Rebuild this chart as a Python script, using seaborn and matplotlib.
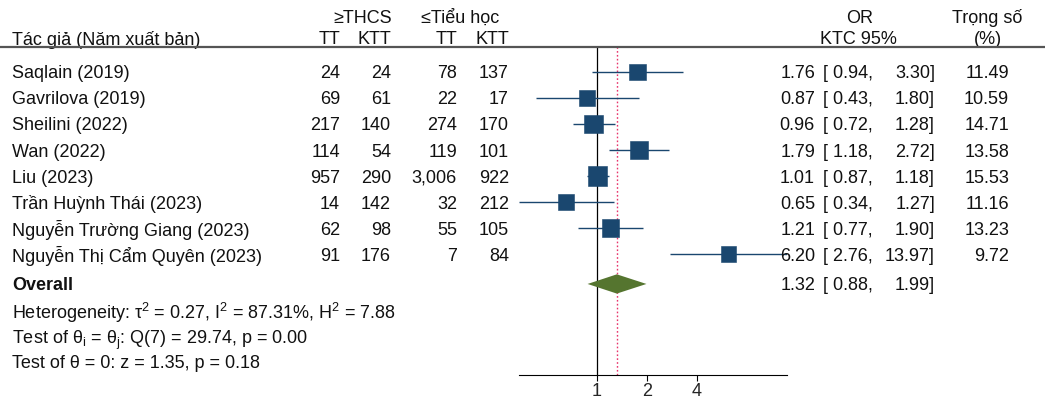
import matplotlib
matplotlib.use("Agg")
import matplotlib.pyplot as plt
import matplotlib.transforms as mtransforms
from matplotlib.lines import Line2D
import numpy as np
import pandas as pd
import seaborn as sns

# data
studies = ["Saqlain (2019)", "Gavrilova (2019)", "Sheilini (2022)", "Wan (2022)",
           "Liu (2023)", "Trần Huỳnh Thái (2023)", "Nguyễn Trường Giang (2023)",
           "Nguyễn Thị Cẩm Quyên (2023)"]
tt_thcs = [24, 69, 217, 114, 957, 14, 62, 91]
ktt_thcs = [24, 61, 140, 54, 290, 142, 98, 176]
tt_tieuhoc = [78, 22, 274, 119, 3006, 32, 55, 7]
ktt_tieuhoc = [137, 17, 170, 101, 922, 212, 105, 84]
odds = [1.76, 0.87, 0.96, 1.79, 1.01, 0.65, 1.21, 6.20]
ci_low = [0.94, 0.43, 0.72, 1.18, 0.87, 0.34, 0.77, 2.76]
ci_high = [3.30, 1.80, 1.28, 2.72, 1.18, 1.27, 1.90, 13.97]
weights = [11.49, 10.59, 14.71, 13.58, 15.53, 11.16, 13.23, 9.72]
overall = (1.32, 0.88, 1.99)
stats_lines = [
    r"Heterogeneity: τ$^2$ = 0.27, I$^2$ = 87.31%, H$^2$ = 7.88",
    r"Test of θ$_\mathrm{i}$ = θ$_\mathrm{j}$: Q(7) = 29.74, p = 0.00",
    "Test of θ = 0: z = 1.35, p = 0.18",
]
xticks = [1, 2, 4]

NAVY = "#1a476f"
GREEN = "#55752f"
RED = "#e8336b"

sns.set_theme(style="white")
plt.rcParams["font.family"] = ["Liberation Sans", "DejaVu Sans"]
plt.rcParams["mathtext.fontset"] = "custom"
plt.rcParams["mathtext.rm"] = "Liberation Sans"
plt.rcParams["mathtext.it"] = "Liberation Sans:italic"
FS = 13

df = pd.DataFrame({"study": studies, "or": odds, "lo": ci_low, "hi": ci_high,
                   "w": weights, "row": np.arange(len(studies))})
overall_row = len(studies) + 0.15

fig = plt.figure(figsize=(10.45, 4.03), dpi=100)
ax = fig.add_axes([519 / 1045, 1 - 375 / 403, 268 / 1045, 328 / 403])
ax.set_xscale("log", base=2)

# CI lines and weighted squares
ax.hlines(df["row"], df["lo"], df["hi"], color=NAVY, lw=1.0, zorder=2)
sns.scatterplot(data=df, x="or", y="row", size="w", sizes=(0, 16 * 12.5),
                size_norm=(0, 16), marker="s", color=NAVY, edgecolor=NAVY,
                linewidth=0.4, legend=False, ax=ax, zorder=3)

# overall diamond
est, lo, hi = overall
ax.fill([lo, est, hi, est], [overall_row, overall_row - 0.37, overall_row, overall_row + 0.37],
        color=GREEN, lw=0, zorder=3)

ax.axvline(1, color="black", lw=0.9, zorder=1)
ax.axvline(est, color=RED, lw=1.0, ls=(0, (1.2, 1.6)), zorder=1)

ax.set_xlim(min(ci_low), max(ci_high))
ax.set_ylim(11.65, -0.96)
ax.set_xticks(xticks)
ax.set_xticklabels([str(t) for t in xticks], fontsize=FS)
ax.xaxis.set_minor_locator(matplotlib.ticker.NullLocator())
ax.tick_params(axis="x", bottom=True, length=4, width=0.8, color="black", pad=2)
ax.set_yticks([])
ax.set_xlabel("")
ax.set_ylabel("")
for side in ["top", "left", "right"]:
    ax.spines[side].set_visible(False)
ax.spines["bottom"].set_color("black")
ax.spines["bottom"].set_linewidth(0.8)

# text columns: figure x, data y
tr = mtransforms.blended_transform_factory(fig.transFigure, ax.transData)

def px(x):
    return x / 1045

def put(x, y, s, ha="left", **kw):
    ax.text(px(x), y, s, transform=tr, ha=ha, va="center_baseline", fontsize=FS,
            color="#111111", clip_on=False, **kw)

# header
put(363, -2.15, "≥THCS", ha="center")
put(460, -2.15, "≤Tiểu học", ha="center")
put(12, -1.31, "Tác giả (Năm xuất bản)")
put(340, -1.31, "TT", ha="right")
put(391, -1.31, "KTT", ha="right")
put(457, -1.31, "TT", ha="right")
put(509, -1.31, "KTT", ha="right")
put(860, -2.15, "OR", ha="center")
put(858, -1.31, "KTC 95%", ha="center")
put(952, -2.15, "Trọng số")
put(988, -1.31, "(%)", ha="center")
fig.add_artist(Line2D([0, 1], [1 - 47 / 403] * 2, color="#555555", lw=1.6,
                      transform=fig.transFigure))

for i, s in enumerate(studies):
    put(12, i, s)
    put(340, i, f"{tt_thcs[i]:,}", ha="right")
    put(391, i, f"{ktt_thcs[i]:,}", ha="right")
    put(457, i, f"{tt_tieuhoc[i]:,}", ha="right")
    put(509, i, f"{ktt_tieuhoc[i]:,}", ha="right")
    put(815, i, f"{odds[i]:.2f}", ha="right")
    put(873, i, f"[ {ci_low[i]:.2f},", ha="right")
    put(935, i, f"{ci_high[i]:.2f}]", ha="right")
    put(1009, i, f"{weights[i]:.2f}", ha="right")

put(12, overall_row, "Overall", fontweight="bold")
put(815, overall_row, f"{est:.2f}", ha="right")
put(873, overall_row, f"[ {lo:.2f},", ha="right")
put(935, overall_row, f"{hi:.2f}]", ha="right")
for k, s in enumerate(stats_lines):
    put(12, overall_row + 1 + k, s)

fig.savefig("out.png", dpi=100)
